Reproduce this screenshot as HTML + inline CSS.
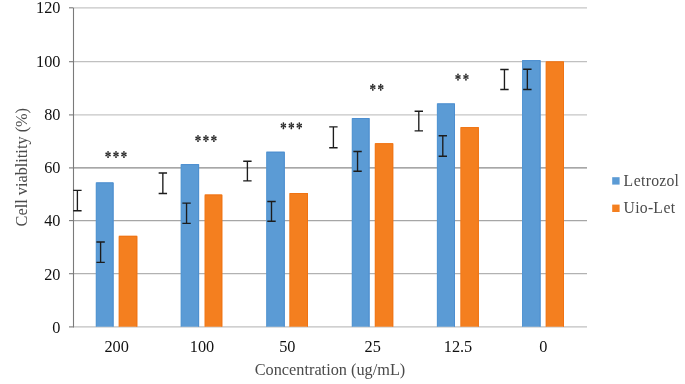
<!DOCTYPE html><html><head><meta charset="utf-8"><style>html,body{margin:0;padding:0;background:#fff;width:685px;height:384px;overflow:hidden}svg{display:block;will-change:transform}text{font-family:"Liberation Serif",serif}</style></head><body>
<svg width="685" height="384" viewBox="0 0 685 384">
<rect width="685" height="384" fill="#fff"/>
<line x1="73" y1="7.8" x2="587" y2="7.8" stroke="#c6c6c6" stroke-width="1.3"/>
<line x1="73" y1="61.7" x2="587" y2="61.7" stroke="#c0c0c0" stroke-width="1.3"/>
<line x1="73" y1="114.9" x2="587" y2="114.9" stroke="#c6c6c6" stroke-width="1.3"/>
<line x1="73" y1="167.9" x2="587" y2="167.9" stroke="#8a8a8a" stroke-width="1.3"/>
<line x1="73" y1="220.6" x2="587" y2="220.6" stroke="#a6a6a6" stroke-width="1.3"/>
<line x1="73" y1="273.7" x2="587" y2="273.7" stroke="#b2b2b2" stroke-width="1.3"/>
<line x1="73" y1="326.9" x2="587" y2="326.9" stroke="#c0c0c0" stroke-width="1.3"/>
<line x1="73.5" y1="7.8" x2="73.5" y2="327.4" stroke="#7a7a7a" stroke-width="1.1"/>
<line x1="69" y1="7.8" x2="73" y2="7.8" stroke="#7a7a7a" stroke-width="1.1"/>
<line x1="69" y1="61.7" x2="73" y2="61.7" stroke="#7a7a7a" stroke-width="1.1"/>
<line x1="69" y1="114.9" x2="73" y2="114.9" stroke="#7a7a7a" stroke-width="1.1"/>
<line x1="69" y1="167.9" x2="73" y2="167.9" stroke="#7a7a7a" stroke-width="1.1"/>
<line x1="69" y1="220.6" x2="73" y2="220.6" stroke="#7a7a7a" stroke-width="1.1"/>
<line x1="69" y1="273.7" x2="73" y2="273.7" stroke="#7a7a7a" stroke-width="1.1"/>
<line x1="69" y1="326.9" x2="73" y2="326.9" stroke="#7a7a7a" stroke-width="1.1"/>
<rect x="95.80" y="182.40" width="17.80" height="144.30" fill="#5b9bd5"/>
<path d="M96.30 182.90H113.10V326.70" fill="none" stroke="#4a8dcf" stroke-width="1" stroke-opacity="0.9"/>
<path d="M96.30 326.70V183.40" fill="none" stroke="#4a8dcf" stroke-width="1" stroke-opacity="0.45"/>
<rect x="118.70" y="235.80" width="18.60" height="90.90" fill="#f47f1f"/>
<path d="M119.20 236.30H136.80V326.70" fill="none" stroke="#f07212" stroke-width="1" stroke-opacity="0.9"/>
<path d="M119.20 326.70V236.80" fill="none" stroke="#f07212" stroke-width="1" stroke-opacity="0.45"/>
<rect x="180.70" y="164.10" width="18.40" height="162.60" fill="#5b9bd5"/>
<path d="M181.20 164.60H198.60V326.70" fill="none" stroke="#4a8dcf" stroke-width="1" stroke-opacity="0.9"/>
<path d="M181.20 326.70V165.10" fill="none" stroke="#4a8dcf" stroke-width="1" stroke-opacity="0.45"/>
<rect x="204.60" y="194.50" width="17.70" height="132.20" fill="#f47f1f"/>
<path d="M205.10 195.00H221.80V326.70" fill="none" stroke="#f07212" stroke-width="1" stroke-opacity="0.9"/>
<path d="M205.10 326.70V195.50" fill="none" stroke="#f07212" stroke-width="1" stroke-opacity="0.45"/>
<rect x="266.20" y="151.70" width="18.60" height="175.00" fill="#5b9bd5"/>
<path d="M266.70 152.20H284.30V326.70" fill="none" stroke="#4a8dcf" stroke-width="1" stroke-opacity="0.9"/>
<path d="M266.70 326.70V152.70" fill="none" stroke="#4a8dcf" stroke-width="1" stroke-opacity="0.45"/>
<rect x="289.40" y="193.00" width="18.60" height="133.70" fill="#f47f1f"/>
<path d="M289.90 193.50H307.50V326.70" fill="none" stroke="#f07212" stroke-width="1" stroke-opacity="0.9"/>
<path d="M289.90 326.70V194.00" fill="none" stroke="#f07212" stroke-width="1" stroke-opacity="0.45"/>
<rect x="351.80" y="118.00" width="17.80" height="208.70" fill="#5b9bd5"/>
<path d="M352.30 118.50H369.10V326.70" fill="none" stroke="#4a8dcf" stroke-width="1" stroke-opacity="0.9"/>
<path d="M352.30 326.70V119.00" fill="none" stroke="#4a8dcf" stroke-width="1" stroke-opacity="0.45"/>
<rect x="374.80" y="143.20" width="18.45" height="183.50" fill="#f47f1f"/>
<path d="M375.30 143.70H392.75V326.70" fill="none" stroke="#f07212" stroke-width="1" stroke-opacity="0.9"/>
<path d="M375.30 326.70V144.20" fill="none" stroke="#f07212" stroke-width="1" stroke-opacity="0.45"/>
<rect x="436.90" y="103.40" width="18.10" height="223.30" fill="#5b9bd5"/>
<path d="M437.40 103.90H454.50V326.70" fill="none" stroke="#4a8dcf" stroke-width="1" stroke-opacity="0.9"/>
<path d="M437.40 326.70V104.40" fill="none" stroke="#4a8dcf" stroke-width="1" stroke-opacity="0.45"/>
<rect x="460.40" y="127.10" width="18.50" height="199.60" fill="#f47f1f"/>
<path d="M460.90 127.60H478.40V326.70" fill="none" stroke="#f07212" stroke-width="1" stroke-opacity="0.9"/>
<path d="M460.90 326.70V128.10" fill="none" stroke="#f07212" stroke-width="1" stroke-opacity="0.45"/>
<rect x="522.00" y="60.10" width="18.60" height="266.60" fill="#5b9bd5"/>
<path d="M522.50 60.60H540.10V326.70" fill="none" stroke="#4a8dcf" stroke-width="1" stroke-opacity="0.9"/>
<path d="M522.50 326.70V61.10" fill="none" stroke="#4a8dcf" stroke-width="1" stroke-opacity="0.45"/>
<rect x="545.70" y="61.40" width="18.30" height="265.30" fill="#f47f1f"/>
<path d="M546.20 61.90H563.50V326.70" fill="none" stroke="#f07212" stroke-width="1" stroke-opacity="0.9"/>
<path d="M546.20 326.70V62.40" fill="none" stroke="#f07212" stroke-width="1" stroke-opacity="0.45"/>
<path d="M73.20 190.4H81.60M77.4 190.4V210.7M73.20 210.7H81.60" stroke="#1c1c1c" stroke-width="1.35" fill="none"/>
<path d="M96.40 242.0H104.80M100.6 242.0V262.3M96.40 262.3H104.80" stroke="#1c1c1c" stroke-width="1.35" fill="none"/>
<path d="M158.65 173.0H167.05M162.85 173.0V193.5M158.65 193.5H167.05" stroke="#1c1c1c" stroke-width="1.35" fill="none"/>
<path d="M182.35 203.1H190.75M186.55 203.1V223.3M182.35 223.3H190.75" stroke="#1c1c1c" stroke-width="1.35" fill="none"/>
<path d="M243.20 161.25H251.60M247.4 161.25V180.9M243.20 180.9H251.60" stroke="#1c1c1c" stroke-width="1.35" fill="none"/>
<path d="M267.30 201.5H275.70M271.5 201.5V221.25M267.30 221.25H275.70" stroke="#1c1c1c" stroke-width="1.35" fill="none"/>
<path d="M329.20 126.9H337.60M333.4 126.9V147.7M329.20 147.7H337.60" stroke="#1c1c1c" stroke-width="1.35" fill="none"/>
<path d="M353.35 151.5H361.75M357.55 151.5V171.25M353.35 171.25H361.75" stroke="#1c1c1c" stroke-width="1.35" fill="none"/>
<path d="M414.60 111.25H423.00M418.8 111.25V130.9M414.60 130.9H423.00" stroke="#1c1c1c" stroke-width="1.35" fill="none"/>
<path d="M438.60 135.7H447.00M442.8 135.7V156.25M438.60 156.25H447.00" stroke="#1c1c1c" stroke-width="1.35" fill="none"/>
<path d="M500.25 69.5H508.65M504.45 69.5V89.5M500.25 89.5H508.65" stroke="#1c1c1c" stroke-width="1.35" fill="none"/>
<path d="M523.15 69.25H531.55M527.35 69.25V89.5M523.15 89.5H531.55" stroke="#1c1c1c" stroke-width="1.35" fill="none"/>
<path d="M108.20 154.40L108.90 151.80A0.85 0.85 0 0 0 107.20 151.80L107.90 154.40ZM107.90 154.40L107.20 157.20A0.85 0.85 0 0 0 108.90 157.20L108.20 154.40ZM108.12 154.53L110.42 154.01A0.85 0.85 0 0 0 109.57 152.54L107.97 154.27ZM107.97 154.53L109.57 156.26A0.85 0.85 0 0 0 110.42 154.79L108.12 154.27ZM107.97 154.27L105.68 154.79A0.85 0.85 0 0 0 106.53 156.26L108.12 154.53ZM108.12 154.27L106.53 152.54A0.85 0.85 0 0 0 105.68 154.01L107.97 154.53Z" fill="#262626"/>
<path d="M116.15 154.40L116.85 151.80A0.85 0.85 0 0 0 115.15 151.80L115.85 154.40ZM115.85 154.40L115.15 157.20A0.85 0.85 0 0 0 116.85 157.20L116.15 154.40ZM116.08 154.53L118.37 154.01A0.85 0.85 0 0 0 117.52 152.54L115.92 154.27ZM115.92 154.53L117.52 156.26A0.85 0.85 0 0 0 118.37 154.79L116.08 154.27ZM115.92 154.27L113.63 154.79A0.85 0.85 0 0 0 114.48 156.26L116.08 154.53ZM116.08 154.27L114.48 152.54A0.85 0.85 0 0 0 113.63 154.01L115.92 154.53Z" fill="#262626"/>
<path d="M124.10 154.40L124.80 151.80A0.85 0.85 0 0 0 123.10 151.80L123.80 154.40ZM123.80 154.40L123.10 157.20A0.85 0.85 0 0 0 124.80 157.20L124.10 154.40ZM124.03 154.53L126.32 154.01A0.85 0.85 0 0 0 125.47 152.54L123.88 154.27ZM123.88 154.53L125.47 156.26A0.85 0.85 0 0 0 126.32 154.79L124.03 154.27ZM123.88 154.27L121.58 154.79A0.85 0.85 0 0 0 122.43 156.26L124.03 154.53ZM124.03 154.27L122.43 152.54A0.85 0.85 0 0 0 121.58 154.01L123.88 154.53Z" fill="#262626"/>
<path d="M198.15 138.40L198.85 135.80A0.85 0.85 0 0 0 197.15 135.80L197.85 138.40ZM197.85 138.40L197.15 141.20A0.85 0.85 0 0 0 198.85 141.20L198.15 138.40ZM198.07 138.53L200.37 138.01A0.85 0.85 0 0 0 199.52 136.54L197.93 138.27ZM197.93 138.53L199.52 140.26A0.85 0.85 0 0 0 200.37 138.79L198.07 138.27ZM197.93 138.27L195.63 138.79A0.85 0.85 0 0 0 196.48 140.26L198.07 138.53ZM198.07 138.27L196.48 136.54A0.85 0.85 0 0 0 195.63 138.01L197.93 138.53Z" fill="#262626"/>
<path d="M206.10 138.40L206.80 135.80A0.85 0.85 0 0 0 205.10 135.80L205.80 138.40ZM205.80 138.40L205.10 141.20A0.85 0.85 0 0 0 206.80 141.20L206.10 138.40ZM206.02 138.53L208.32 138.01A0.85 0.85 0 0 0 207.47 136.54L205.88 138.27ZM205.88 138.53L207.47 140.26A0.85 0.85 0 0 0 208.32 138.79L206.02 138.27ZM205.88 138.27L203.58 138.79A0.85 0.85 0 0 0 204.43 140.26L206.02 138.53ZM206.02 138.27L204.43 136.54A0.85 0.85 0 0 0 203.58 138.01L205.88 138.53Z" fill="#262626"/>
<path d="M214.05 138.40L214.75 135.80A0.85 0.85 0 0 0 213.05 135.80L213.75 138.40ZM213.75 138.40L213.05 141.20A0.85 0.85 0 0 0 214.75 141.20L214.05 138.40ZM213.97 138.53L216.27 138.01A0.85 0.85 0 0 0 215.42 136.54L213.83 138.27ZM213.83 138.53L215.42 140.26A0.85 0.85 0 0 0 216.27 138.79L213.97 138.27ZM213.83 138.27L211.53 138.79A0.85 0.85 0 0 0 212.38 140.26L213.97 138.53ZM213.97 138.27L212.38 136.54A0.85 0.85 0 0 0 211.53 138.01L213.83 138.53Z" fill="#262626"/>
<path d="M283.55 125.60L284.25 123.00A0.85 0.85 0 0 0 282.55 123.00L283.25 125.60ZM283.25 125.60L282.55 128.40A0.85 0.85 0 0 0 284.25 128.40L283.55 125.60ZM283.47 125.73L285.77 125.21A0.85 0.85 0 0 0 284.92 123.74L283.32 125.47ZM283.32 125.73L284.92 127.46A0.85 0.85 0 0 0 285.77 125.99L283.47 125.47ZM283.32 125.47L281.03 125.99A0.85 0.85 0 0 0 281.88 127.46L283.47 125.73ZM283.47 125.47L281.88 123.74A0.85 0.85 0 0 0 281.03 125.21L283.32 125.73Z" fill="#262626"/>
<path d="M291.50 125.60L292.20 123.00A0.85 0.85 0 0 0 290.50 123.00L291.20 125.60ZM291.20 125.60L290.50 128.40A0.85 0.85 0 0 0 292.20 128.40L291.50 125.60ZM291.42 125.73L293.72 125.21A0.85 0.85 0 0 0 292.87 123.74L291.27 125.47ZM291.27 125.73L292.87 127.46A0.85 0.85 0 0 0 293.72 125.99L291.42 125.47ZM291.27 125.47L288.98 125.99A0.85 0.85 0 0 0 289.83 127.46L291.42 125.73ZM291.42 125.47L289.83 123.74A0.85 0.85 0 0 0 288.98 125.21L291.27 125.73Z" fill="#262626"/>
<path d="M299.45 125.60L300.15 123.00A0.85 0.85 0 0 0 298.45 123.00L299.15 125.60ZM299.15 125.60L298.45 128.40A0.85 0.85 0 0 0 300.15 128.40L299.45 125.60ZM299.37 125.73L301.67 125.21A0.85 0.85 0 0 0 300.82 123.74L299.22 125.47ZM299.22 125.73L300.82 127.46A0.85 0.85 0 0 0 301.67 125.99L299.37 125.47ZM299.22 125.47L296.93 125.99A0.85 0.85 0 0 0 297.78 127.46L299.37 125.73ZM299.37 125.47L297.78 123.74A0.85 0.85 0 0 0 296.93 125.21L299.22 125.73Z" fill="#262626"/>
<path d="M372.95 87.20L373.65 84.60A0.85 0.85 0 0 0 371.95 84.60L372.65 87.20ZM372.65 87.20L371.95 90.00A0.85 0.85 0 0 0 373.65 90.00L372.95 87.20ZM372.88 87.33L375.17 86.81A0.85 0.85 0 0 0 374.32 85.34L372.73 87.07ZM372.73 87.33L374.32 89.06A0.85 0.85 0 0 0 375.17 87.59L372.88 87.07ZM372.73 87.07L370.43 87.59A0.85 0.85 0 0 0 371.28 89.06L372.88 87.33ZM372.88 87.07L371.28 85.34A0.85 0.85 0 0 0 370.43 86.81L372.73 87.33Z" fill="#262626"/>
<path d="M380.90 87.20L381.60 84.60A0.85 0.85 0 0 0 379.90 84.60L380.60 87.20ZM380.60 87.20L379.90 90.00A0.85 0.85 0 0 0 381.60 90.00L380.90 87.20ZM380.82 87.33L383.12 86.81A0.85 0.85 0 0 0 382.27 85.34L380.68 87.07ZM380.68 87.33L382.27 89.06A0.85 0.85 0 0 0 383.12 87.59L380.82 87.07ZM380.68 87.07L378.38 87.59A0.85 0.85 0 0 0 379.23 89.06L380.82 87.33ZM380.82 87.07L379.23 85.34A0.85 0.85 0 0 0 378.38 86.81L380.68 87.33Z" fill="#262626"/>
<path d="M458.15 77.00L458.85 74.40A0.85 0.85 0 0 0 457.15 74.40L457.85 77.00ZM457.85 77.00L457.15 79.80A0.85 0.85 0 0 0 458.85 79.80L458.15 77.00ZM458.07 77.13L460.37 76.61A0.85 0.85 0 0 0 459.52 75.14L457.93 76.87ZM457.93 77.13L459.52 78.86A0.85 0.85 0 0 0 460.37 77.39L458.07 76.87ZM457.93 76.87L455.63 77.39A0.85 0.85 0 0 0 456.48 78.86L458.07 77.13ZM458.07 76.87L456.48 75.14A0.85 0.85 0 0 0 455.63 76.61L457.93 77.13Z" fill="#262626"/>
<path d="M466.10 77.00L466.80 74.40A0.85 0.85 0 0 0 465.10 74.40L465.80 77.00ZM465.80 77.00L465.10 79.80A0.85 0.85 0 0 0 466.80 79.80L466.10 77.00ZM466.02 77.13L468.32 76.61A0.85 0.85 0 0 0 467.47 75.14L465.88 76.87ZM465.88 77.13L467.47 78.86A0.85 0.85 0 0 0 468.32 77.39L466.02 76.87ZM465.88 76.87L463.58 77.39A0.85 0.85 0 0 0 464.43 78.86L466.02 77.13ZM466.02 76.87L464.43 75.14A0.85 0.85 0 0 0 463.58 76.61L465.88 77.13Z" fill="#262626"/>
<text x="60.5" y="13.45" font-size="16.3" fill="#111" text-anchor="end">120</text>
<text x="60.5" y="66.50" font-size="16.3" fill="#111" text-anchor="end">100</text>
<text x="60.5" y="119.75" font-size="16.3" fill="#111" text-anchor="end">80</text>
<text x="60.5" y="172.95" font-size="16.3" fill="#111" text-anchor="end">60</text>
<text x="60.5" y="225.95" font-size="16.3" fill="#111" text-anchor="end">40</text>
<text x="60.5" y="279.55" font-size="16.3" fill="#111" text-anchor="end">20</text>
<text x="60.5" y="332.90" font-size="16.3" fill="#111" text-anchor="end">0</text>
<text x="116.67" y="351.6" font-size="16.3" fill="#111" text-anchor="middle">200</text>
<text x="202.00" y="351.6" font-size="16.3" fill="#111" text-anchor="middle">100</text>
<text x="287.33" y="351.6" font-size="16.3" fill="#111" text-anchor="middle">50</text>
<text x="372.66" y="351.6" font-size="16.3" fill="#111" text-anchor="middle">25</text>
<text x="457.99" y="351.6" font-size="16.3" fill="#111" text-anchor="middle">12.5</text>
<text x="543.32" y="351.6" font-size="16.3" fill="#111" text-anchor="middle">0</text>
<text x="330" y="374.7" font-size="16.3" fill="#4a4a4a" text-anchor="middle">Concentration (ug/mL)</text>
<text transform="translate(26.9 167.2) rotate(-90)" x="0" y="0" font-size="16.3" fill="#4a4a4a" text-anchor="middle">Cell viablitity (%)</text>
<rect x="612.2" y="177.2" width="7.4" height="7.4" fill="#5b9bd5"/>
<rect x="612.2" y="204.6" width="7.4" height="7.4" fill="#f47f1f"/>
<text x="623.6" y="186.0" font-size="15.7" letter-spacing="0.25" fill="#4a4a4a">L<tspan dx="0.4">etrozol</tspan></text>
<text x="623.6" y="213.1" font-size="15.7" letter-spacing="0.25" fill="#4a4a4a">Uio-L<tspan dx="0.4">et</tspan></text>
</svg></body></html>
